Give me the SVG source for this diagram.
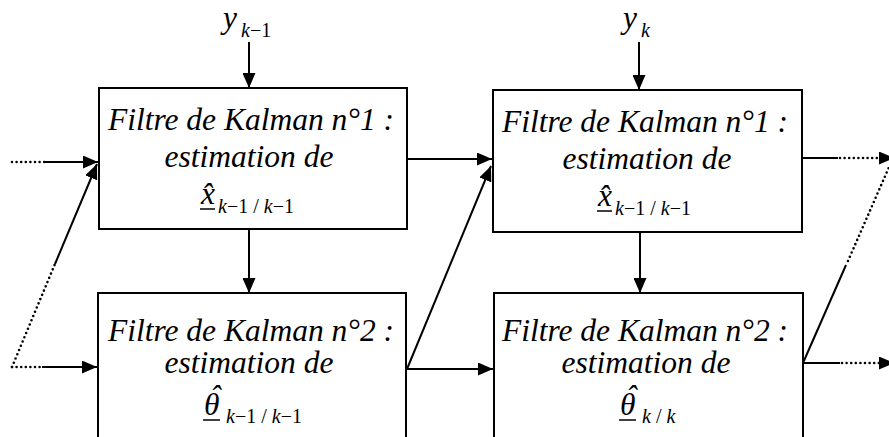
<svg xmlns="http://www.w3.org/2000/svg" width="889" height="437" viewBox="0 0 889 437">
<defs>
<style>
.box{fill:#fff;stroke:#000;stroke-width:2}
.ln{stroke:#000;stroke-width:2;fill:none}
.dot{stroke:#000;stroke-width:2.6;fill:none;stroke-dasharray:0 4.6;stroke-linecap:round}
.ul{stroke:#000;stroke-width:1.5}
.t{font-family:"Liberation Serif","Times New Roman",serif;font-style:italic;font-size:31.5px;fill:#000}
.c{text-anchor:middle}
.s{font-size:20px}
.u{font-style:normal}
</style>
<marker id="ah" markerWidth="15" markerHeight="13" refX="15" refY="6.5" orient="auto" markerUnits="userSpaceOnUse">
<path d="M0,0 L15,6.5 L0,13 z" fill="#000"/>
</marker>
</defs>
<rect width="889" height="437" fill="#fff"/>

<g id="connectors">
<line class="ln" x1="249" y1="42" x2="249" y2="88" marker-end="url(#ah)"/>
<line class="ln" x1="639" y1="42" x2="639" y2="90" marker-end="url(#ah)"/>
<line class="ln" x1="249" y1="229" x2="249" y2="293" marker-end="url(#ah)"/>
<line class="ln" x1="640" y1="232" x2="640" y2="293" marker-end="url(#ah)"/>
<line class="dot" x1="12" y1="162" x2="45" y2="162"/>
<line class="ln" x1="45" y1="162" x2="98" y2="162" marker-end="url(#ah)"/>
<line class="dot" x1="12" y1="367" x2="42" y2="367"/>
<line class="ln" x1="42" y1="367" x2="97" y2="367" marker-end="url(#ah)"/>
<line class="dot" x1="12" y1="367" x2="55" y2="264"/>
<line class="ln" x1="55" y1="264" x2="97" y2="164" marker-end="url(#ah)"/>
<line class="ln" x1="407" y1="159" x2="492" y2="159" marker-end="url(#ah)"/>
<line class="ln" x1="407" y1="369" x2="491" y2="166" marker-end="url(#ah)"/>
<line class="ln" x1="407" y1="369" x2="493" y2="369" marker-end="url(#ah)"/>
<line class="ln" x1="802" y1="158" x2="838" y2="158"/>
<line class="dot" x1="840" y1="158" x2="880" y2="158"/>
<line class="ln" x1="880" y1="158" x2="894" y2="158" marker-end="url(#ah)"/>
<line class="ln" x1="803" y1="363" x2="846" y2="265"/>
<line class="dot" x1="848" y1="261" x2="893" y2="158"/>
<line class="ln" x1="803" y1="363" x2="840" y2="363"/>
<line class="dot" x1="842" y1="363" x2="880" y2="363"/>
<line class="ln" x1="880" y1="363" x2="894" y2="363" marker-end="url(#ah)"/>
</g>

<g id="y-km1">
<text class="t" x="223" y="28">y</text>
<text class="t s" x="241" y="37">k<tspan class="u">−1</tspan></text>
</g>
<g id="y-k">
<text class="t" x="623" y="28">y</text>
<text class="t s" x="641" y="37">k</text>
</g>

<g id="kf1-km1">
<rect class="box" x="99" y="88" width="308" height="141"/>
<text class="t c" x="251" y="130">Filtre de Kalman n°1 :</text>
<text class="t c" x="249" y="167">estimation de</text>
<text class="t" x="201" y="204">x&#x302;</text>
<line class="ul" x1="200" y1="209" x2="215" y2="209"/>
<text class="t s" x="218" y="213">k<tspan class="u">−1 / </tspan>k<tspan class="u">−1</tspan></text>
</g>

<g id="kf1-k">
<rect class="box" x="493" y="90" width="309" height="142"/>
<text class="t c" x="645" y="132">Filtre de Kalman n°1 :</text>
<text class="t c" x="647" y="169">estimation de</text>
<text class="t" x="598" y="206">x&#x302;</text>
<line class="ul" x1="597" y1="211" x2="612" y2="211"/>
<text class="t s" x="615" y="215">k<tspan class="u">−1 / </tspan>k<tspan class="u">−1</tspan></text>
</g>

<g id="kf2-km1">
<rect class="box" x="98" y="293" width="308" height="160"/>
<text class="t c" x="251" y="341">Filtre de Kalman n°2 :</text>
<text class="t c" x="249" y="373">estimation de</text>
<text class="t" x="204" y="415">θ<tspan x="210" y="407">ˆ</tspan></text>
<line class="ul" x1="203" y1="420" x2="220" y2="420"/>
<text class="t s" x="226" y="423">k<tspan class="u">−1 / </tspan>k<tspan class="u">−1</tspan></text>
</g>

<g id="kf2-k">
<rect class="box" x="494" y="293" width="309" height="160"/>
<text class="t c" x="645" y="341">Filtre de Kalman n°2 :</text>
<text class="t c" x="646" y="373">estimation de</text>
<text class="t" x="620" y="415">θ<tspan x="626" y="407">ˆ</tspan></text>
<line class="ul" x1="619" y1="420" x2="636" y2="420"/>
<text class="t s" x="642" y="423">k<tspan class="u"> / </tspan>k</text>
</g>
</svg>
